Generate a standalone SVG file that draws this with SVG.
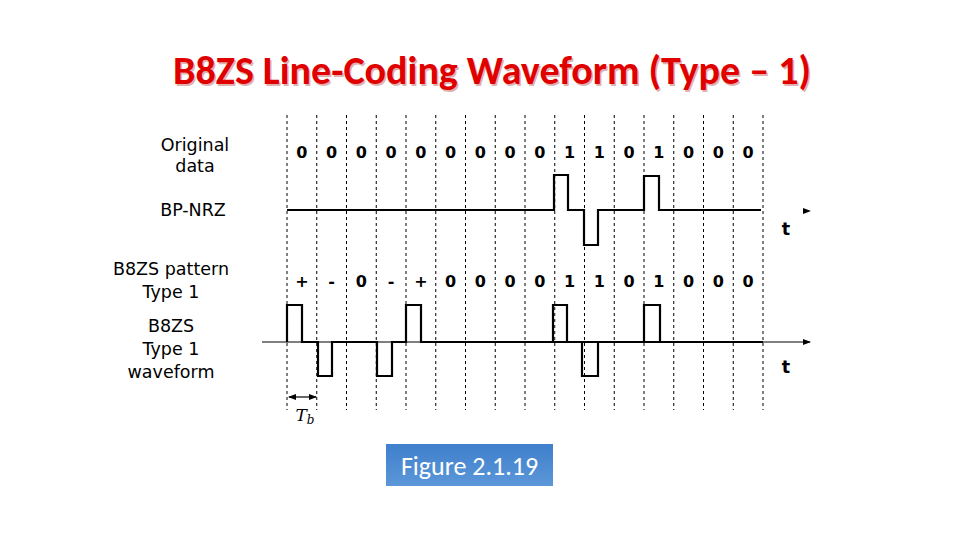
<svg xmlns="http://www.w3.org/2000/svg" width="960" height="540" viewBox="0 0 960 540">
<style>
.grid{stroke:#000;stroke-width:1;stroke-dasharray:3,3}
.wave{fill:none;stroke:#000;stroke-width:2.2}
.lbl{font-family:"DejaVu Sans",sans-serif;font-size:17.5px;fill:#000;text-anchor:middle}
.bit{font-family:"DejaVu Sans",sans-serif;font-weight:bold;font-size:16px;fill:#000;text-anchor:middle}
</style>
<defs>
<marker id="ah" markerWidth="8" markerHeight="8" refX="7" refY="4" orient="auto" markerUnits="userSpaceOnUse"><path d="M0,1 L8,4 L0,7 Z" fill="#000"/></marker>
<marker id="tb" markerWidth="8" markerHeight="8" refX="7" refY="4" orient="auto-start-reverse" markerUnits="userSpaceOnUse"><path d="M0,1 L8,4 L0,7 Z" fill="#000"/></marker>
<linearGradient id="fg" x1="0" y1="0" x2="0" y2="1"><stop offset="0" stop-color="#3f7fcc"/><stop offset="1" stop-color="#5b97d8"/></linearGradient>
</defs>
<rect width="960" height="540" fill="#fff"/>
<g id="title"><text x="492" y="84" font-family="Carlito,'Open Sans',sans-serif" font-weight="bold" font-size="40" fill="#9a0000" opacity="0.3" text-anchor="middle" transform="translate(1.5,1.5)">B8ZS Line-Coding Waveform (Type – 1)</text>
<text x="492" y="84" font-family="Carlito,'Open Sans',sans-serif" font-weight="bold" font-size="40" fill="#e00000" text-anchor="middle">B8ZS Line-Coding Waveform (Type – 1)</text></g>
<g id="grid">
<line class="grid" x1="287" y1="115" x2="287" y2="410"/><line class="grid" x1="316.75" y1="115" x2="316.75" y2="410"/><line class="grid" x1="346.5" y1="115" x2="346.5" y2="410"/><line class="grid" x1="376.25" y1="115" x2="376.25" y2="410"/><line class="grid" x1="406" y1="115" x2="406" y2="410"/><line class="grid" x1="435.75" y1="115" x2="435.75" y2="410"/><line class="grid" x1="465.5" y1="115" x2="465.5" y2="410"/><line class="grid" x1="495.25" y1="115" x2="495.25" y2="410"/><line class="grid" x1="525" y1="115" x2="525" y2="410"/><line class="grid" x1="554.75" y1="115" x2="554.75" y2="410"/><line class="grid" x1="584.5" y1="115" x2="584.5" y2="410"/><line class="grid" x1="614.25" y1="115" x2="614.25" y2="410"/><line class="grid" x1="644" y1="115" x2="644" y2="410"/><line class="grid" x1="673.75" y1="115" x2="673.75" y2="410"/><line class="grid" x1="703.5" y1="115" x2="703.5" y2="410"/><line class="grid" x1="733.25" y1="115" x2="733.25" y2="410"/><line class="grid" x1="763" y1="115" x2="763" y2="410"/>
</g>
<g id="labels">
<text class="lbl" x="195" y="151">Original</text><text class="lbl" x="195" y="172">data</text>
<text class="lbl" x="193" y="216">BP-NRZ</text>
<text class="lbl" x="171" y="275">B8ZS pattern</text><text class="lbl" x="171" y="298">Type 1</text>
<text class="lbl" x="171" y="332">B8ZS</text><text class="lbl" x="171" y="355">Type 1</text><text class="lbl" x="171" y="378">waveform</text>
<text class="lbl" x="786" y="235" font-weight="bold" font-size="15">t</text><text class="lbl" x="786" y="373" font-weight="bold" font-size="15">t</text>
<text x="305" y="421" font-family="'DejaVu Serif',serif" font-style="italic" font-size="17" text-anchor="middle">T<tspan font-size="12" dy="3">b</tspan></text>
</g>
<g id="bits-top">
<text class="bit" x="301.9" y="158">0</text><text class="bit" x="331.6" y="158">0</text><text class="bit" x="361.4" y="158">0</text><text class="bit" x="391.1" y="158">0</text><text class="bit" x="420.9" y="158">0</text><text class="bit" x="450.6" y="158">0</text><text class="bit" x="480.4" y="158">0</text><text class="bit" x="510.1" y="158">0</text><text class="bit" x="539.9" y="158">0</text><text class="bit" x="569.6" y="158">1</text><text class="bit" x="599.4" y="158">1</text><text class="bit" x="629.1" y="158">0</text><text class="bit" x="658.9" y="158">1</text><text class="bit" x="688.6" y="158">0</text><text class="bit" x="718.4" y="158">0</text><text class="bit" x="748.1" y="158">0</text>
</g>
<g id="bits-bottom">
<text class="bit" x="301.9" y="287">+</text><text class="bit" x="331.6" y="287">-</text><text class="bit" x="361.4" y="287">0</text><text class="bit" x="391.1" y="287">-</text><text class="bit" x="420.9" y="287">+</text><text class="bit" x="450.6" y="287">0</text><text class="bit" x="480.4" y="287">0</text><text class="bit" x="510.1" y="287">0</text><text class="bit" x="539.9" y="287">0</text><text class="bit" x="569.6" y="287">1</text><text class="bit" x="599.4" y="287">1</text><text class="bit" x="629.1" y="287">0</text><text class="bit" x="658.9" y="287">1</text><text class="bit" x="688.6" y="287">0</text><text class="bit" x="718.4" y="287">0</text><text class="bit" x="748.1" y="287">0</text>
</g>
<g id="connectors">
<path class="wave" d="M287,210 H554 V175 H568 V210 H584 V245 H598 V210 H644 V176 H659 V210 H761"/>
<path d="M803,208 L811,211 L803,214 Z" fill="#000"/>
<line x1="262" y1="342" x2="810" y2="342" stroke="#000" stroke-width="1" marker-end="url(#ah)"/>
<path class="wave" d="M287,342 V305 H302 V342 H318 V376 H332 V342 H377 V376 H392 V342 H406 V305 H421 V342 H763 M553,342 V305 H567 V342 M582,342 V376 H598 V342 M644,342 V305 H660 V342"/>
<line x1="289" y1="397" x2="316" y2="397" stroke="#000" stroke-width="1.2" marker-start="url(#tb)" marker-end="url(#tb)"/>
</g>
<g id="figure"><rect x="386" y="444" width="167" height="42" fill="url(#fg)"/>
<text x="469.5" y="475" font-family="Carlito,'Open Sans',sans-serif" font-size="26" fill="#fff" text-anchor="middle">Figure 2.1.19</text></g>
</svg>
